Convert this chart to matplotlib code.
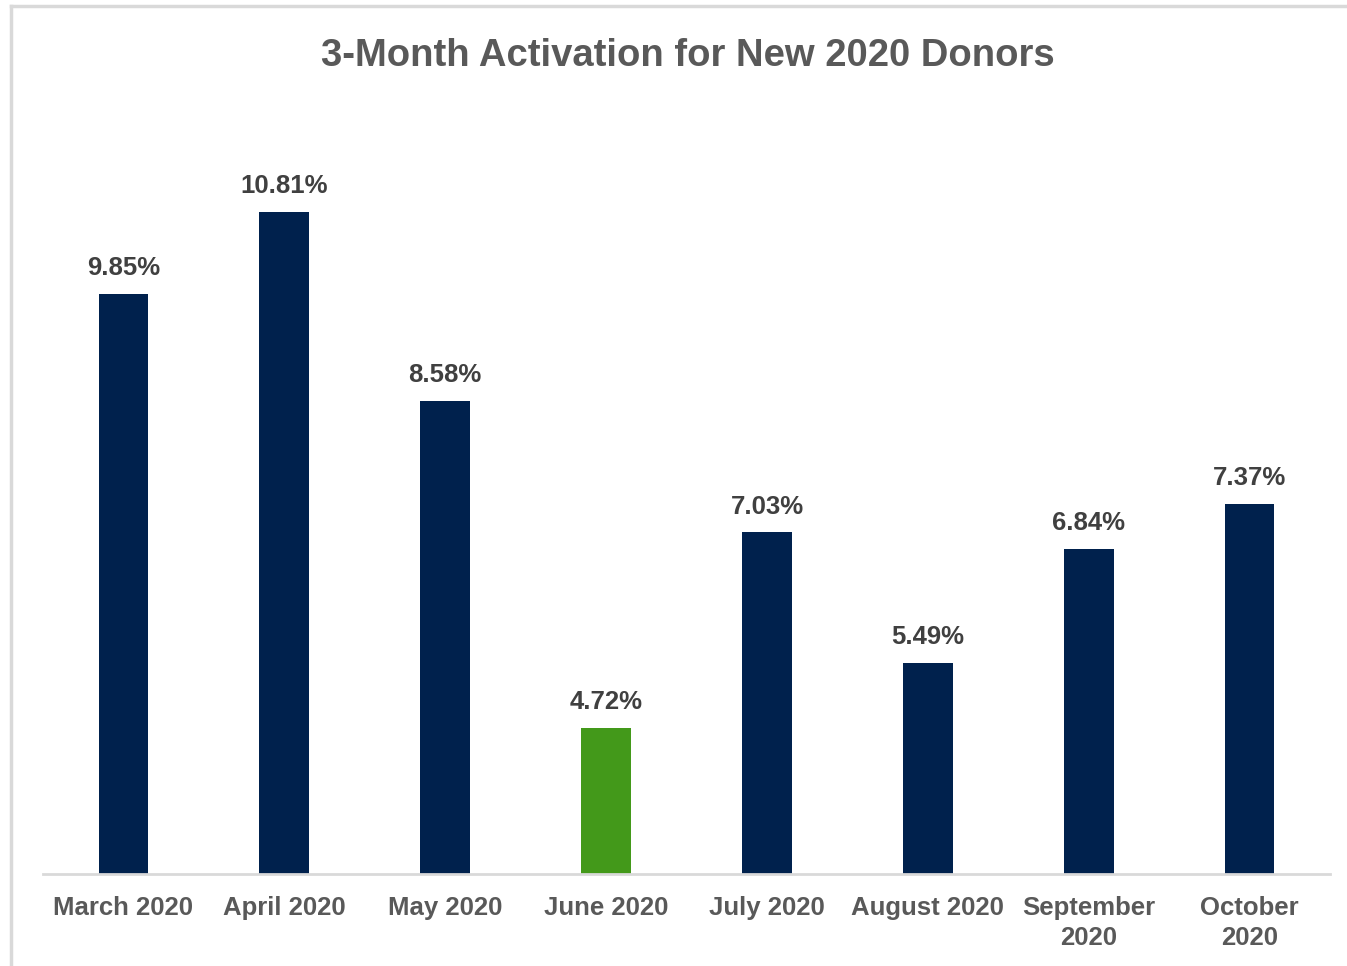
import matplotlib
matplotlib.use("Agg")
import matplotlib.pyplot as plt
from matplotlib.lines import Line2D

months = ["March 2020", "April 2020", "May 2020", "June 2020", "July 2020",
          "August 2020", "September\n2020", "October\n2020"]
activation = [9.85, 10.81, 8.58, 4.72, 7.03, 5.49, 6.84, 7.37]
highlight = "June 2020"

NAVY = "#00214D"
GREEN = "#43991A"
TEXT = "#595959"
FONT = ["Liberation Sans", "DejaVu Sans"]

fig = plt.figure(figsize=(13.47, 9.66), dpi=100)
W, H = 1347, 966
ax = fig.add_axes([43 / W, (H - 874) / H, (1330 - 43) / W, (874 - 152) / H])

colors = [GREEN if m == highlight else NAVY for m in months]
x = range(len(months))
bars = ax.bar(x, activation, width=0.31, color=colors, zorder=2)

ax.set_xlim(-0.5, len(months) - 0.5)
ax.set_ylim(3, 11.52)
ax.set_yticks([])
for side in ["left", "right", "top"]:
    ax.spines[side].set_visible(False)
ax.spines["bottom"].set_color("#D9D9D9")
ax.spines["bottom"].set_linewidth(2)
ax.spines["bottom"].set_zorder(3)

ax.set_xticks(list(x))
ax.set_xticklabels(months, family=FONT, fontweight="bold", fontsize=18.5,
                   color=TEXT, linespacing=1.3)
ax.tick_params(axis="x", length=0, pad=16)

for b, v in zip(bars, activation):
    ax.annotate(f"{v:.2f}%", (b.get_x() + b.get_width() / 2, v),
                xytext=(0, 10), textcoords="offset points",
                ha="center", va="bottom", family=FONT, fontweight="bold",
                fontsize=18.5, color="#404040")

fig.text(688 / W, 1 - 56 / H, "3-Month Activation for New 2020 Donors",
         ha="center", va="center", family=FONT, fontweight="bold",
         fontsize=27.5, color=TEXT)

# chart frame (only top and left edges visible)
fig.add_artist(Line2D([11 / W, 11 / W], [0, 1 - 6 / H], color="#D9D9D9", lw=2.5))
fig.add_artist(Line2D([11 / W, 1], [1 - 6 / H, 1 - 6 / H], color="#D9D9D9", lw=2.5))

fig.savefig("out.png", dpi=100)
